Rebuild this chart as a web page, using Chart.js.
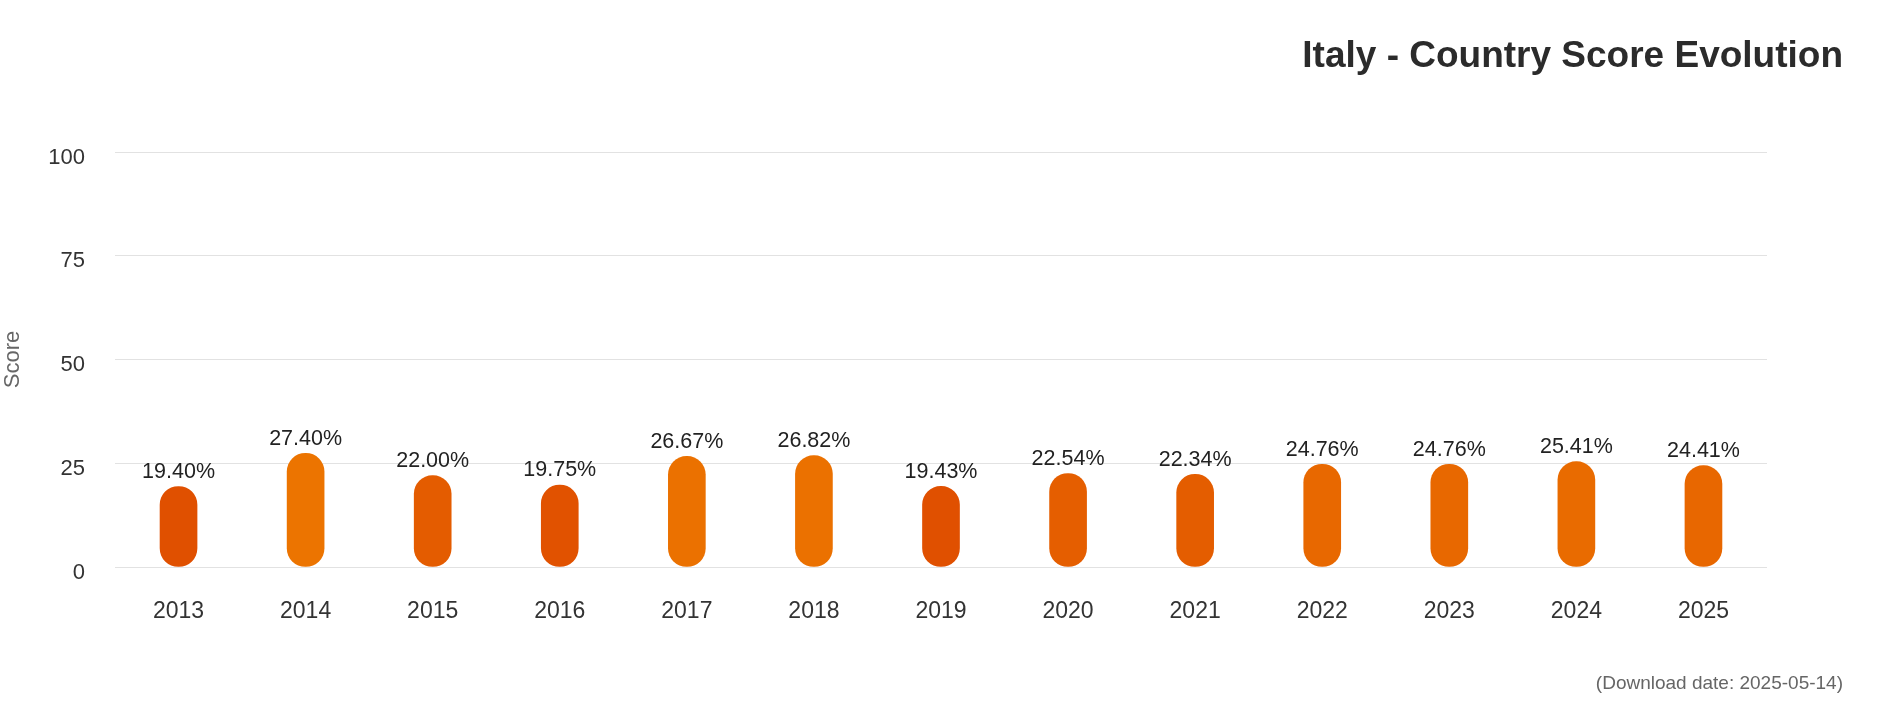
<!DOCTYPE html>
<html>
<head>
<meta charset="utf-8">
<script src="https://cdn.jsdelivr.net/npm/chart.js@4/dist/chart.umd.min.js"></script>
<style>
  html, body { margin: 0; padding: 0; background: #fff; }
  #wrap { width: 1882px; height: 720px; position: relative; }
</style>
</head>
<body>
<div id="wrap"><canvas id="chart" width="1882" height="720"></canvas></div>
<script>
// Chart data.
var years = ['2013', '2014', '2015', '2016', '2017', '2018', '2019', '2020', '2021', '2022', '2023', '2024', '2025'];
var scores = [19.40, 27.40, 22.00, 19.75, 26.67, 26.82, 19.43, 22.54, 22.34, 24.76, 24.76, 25.41, 24.41];
var yTicks = [0, 25, 50, 75, 100];

var FONT = '"Liberation Sans", Arial, sans-serif';

// Bars go from red-orange (low) to orange (high).
function barColor(v) {
  var lo = Math.min.apply(null, scores);
  var hi = Math.max.apply(null, scores);
  var t = (v - lo) / (hi - lo);
  var r = Math.round(224 + (236 - 224) * t);
  var g = Math.round(80 + (116 - 80) * t);
  return 'rgb(' + r + ',' + g + ',0)';
}

// Title, value labels above each bar, and the download date in the corner.
var extras = {
  id: 'extras',
  afterDatasetsDraw: function (chart) {
    var ctx = chart.ctx;
    var meta = chart.getDatasetMeta(0);
    ctx.save();
    ctx.textBaseline = 'middle';

    ctx.font = 'bold 37px ' + FONT;
    ctx.fillStyle = '#2b2b2b';
    ctx.textAlign = 'right';
    ctx.fillText('Italy - Country Score Evolution', 1843, 57);

    ctx.font = '21.5px ' + FONT;
    ctx.fillStyle = '#222';
    ctx.textAlign = 'center';
    meta.data.forEach(function (bar, i) {
      ctx.fillText(scores[i].toFixed(2) + '%', bar.x, bar.y - 14.5);
    });

    ctx.font = '19px ' + FONT;
    ctx.fillStyle = '#666';
    ctx.textAlign = 'right';
    ctx.fillText('(Download date: 2025-05-14)', 1843, 684);
    ctx.restore();
  }
};

new Chart(document.getElementById('chart'), {
  type: 'bar',
  data: {
    labels: years,
    datasets: [{
      data: scores,
      backgroundColor: scores.map(barColor),
      borderRadius: 19,
      borderSkipped: false,
      barThickness: 37,
    }],
  },
  options: {
    responsive: false,
    animation: false,
    layout: { padding: { left: 0, right: 115, top: 152, bottom: 0 } },
    plugins: {
      legend: { display: false },
      tooltip: { enabled: false },
    },
    scales: {
      x: {
        grid: { display: false, drawTicks: false },
        border: { display: false },
        ticks: { color: '#333', padding: 31, font: { family: FONT, size: 23 } },
        afterFit: function (s) { s.height = 153; },
      },
      y: {
        min: 0,
        max: 100,
        afterBuildTicks: function (s) { s.ticks = yTicks.map(function (v) { return { value: v }; }); },
        grid: { color: '#e2e2e2', drawTicks: false },
        border: { display: false },
        ticks: { color: '#333', padding: 30, labelOffset: 5.5, font: { family: FONT, size: 22 } },
        title: { display: true, text: 'Score', color: '#666', padding: 0, font: { family: FONT, size: 22 } },
        afterFit: function (s) { s.width = 115; },
      },
    },
  },
  plugins: [extras],
});
</script>
</body>
</html>
